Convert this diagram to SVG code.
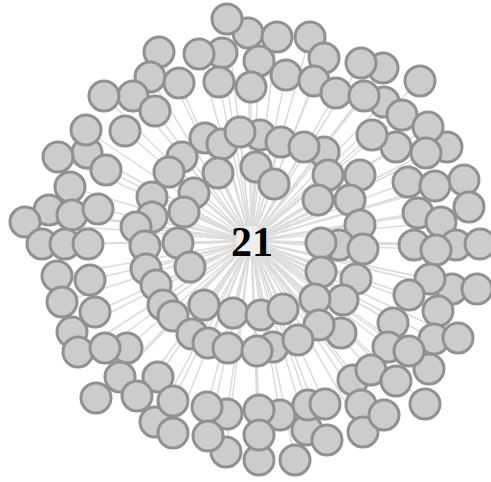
<svg xmlns="http://www.w3.org/2000/svg" width="491" height="482" viewBox="0 0 491 482">
<style>
.l{stroke:#dcdcdc;stroke-width:1.5}
.n{fill:#cccccc;stroke:#919191;stroke-width:3}
.c{fill:#eeeeee;stroke:#dddddd;stroke-width:2}
.t{font-family:"Liberation Serif","DejaVu Serif",serif;font-weight:bold;font-size:42px;fill:#000}
</style>
<rect width="491" height="482" fill="#fff"/>
<g id="links">
<line class="l" x1="251" y1="241" x2="227" y2="19"/><line class="l" x1="251" y1="241" x2="248" y2="33"/><line class="l" x1="251" y1="241" x2="277" y2="37"/><line class="l" x1="251" y1="241" x2="310" y2="37"/><line class="l" x1="251" y1="241" x2="159" y2="52"/><line class="l" x1="251" y1="241" x2="199" y2="54"/><line class="l" x1="251" y1="241" x2="222" y2="53"/><line class="l" x1="251" y1="241" x2="259" y2="61"/><line class="l" x1="251" y1="241" x2="324" y2="58"/><line class="l" x1="251" y1="241" x2="361" y2="63"/><line class="l" x1="251" y1="241" x2="383" y2="68"/><line class="l" x1="251" y1="241" x2="420" y2="81"/><line class="l" x1="251" y1="241" x2="150" y2="77"/><line class="l" x1="251" y1="241" x2="179" y2="83"/><line class="l" x1="251" y1="241" x2="219" y2="82"/><line class="l" x1="251" y1="241" x2="251" y2="87"/><line class="l" x1="251" y1="241" x2="286" y2="75"/><line class="l" x1="251" y1="241" x2="314" y2="81"/><line class="l" x1="251" y1="241" x2="336" y2="93"/><line class="l" x1="251" y1="241" x2="364" y2="96"/><line class="l" x1="251" y1="241" x2="104" y2="96"/><line class="l" x1="251" y1="241" x2="133" y2="96"/><line class="l" x1="251" y1="241" x2="155" y2="111"/><line class="l" x1="251" y1="241" x2="384" y2="102"/>
<line class="l" x1="251" y1="241" x2="402" y2="115"/><line class="l" x1="251" y1="241" x2="428" y2="127"/><line class="l" x1="251" y1="241" x2="447" y2="147"/><line class="l" x1="251" y1="241" x2="426" y2="153"/><line class="l" x1="251" y1="241" x2="396" y2="147"/><line class="l" x1="251" y1="241" x2="372" y2="135"/><line class="l" x1="251" y1="241" x2="86" y2="130"/><line class="l" x1="251" y1="241" x2="125" y2="131"/><line class="l" x1="251" y1="241" x2="205" y2="138"/><line class="l" x1="251" y1="241" x2="222" y2="144"/><line class="l" x1="251" y1="241" x2="240" y2="132"/><line class="l" x1="251" y1="241" x2="260" y2="135"/><line class="l" x1="251" y1="241" x2="281" y2="142"/><line class="l" x1="251" y1="241" x2="304" y2="147"/><line class="l" x1="251" y1="241" x2="324" y2="152"/><line class="l" x1="251" y1="241" x2="58" y2="157"/><line class="l" x1="251" y1="241" x2="87" y2="153"/><line class="l" x1="251" y1="241" x2="106" y2="170"/><line class="l" x1="251" y1="241" x2="182" y2="157"/><line class="l" x1="251" y1="241" x2="169" y2="172"/><line class="l" x1="251" y1="241" x2="218" y2="173"/><line class="l" x1="251" y1="241" x2="256" y2="167"/><line class="l" x1="251" y1="241" x2="274" y2="184"/><line class="l" x1="251" y1="241" x2="328" y2="175"/><line class="l" x1="251" y1="241" x2="360" y2="175"/><line class="l" x1="251" y1="241" x2="408" y2="182"/><line class="l" x1="251" y1="241" x2="435" y2="186"/><line class="l" x1="251" y1="241" x2="464" y2="180"/>
<line class="l" x1="251" y1="241" x2="70" y2="187"/><line class="l" x1="251" y1="241" x2="194" y2="193"/><line class="l" x1="251" y1="241" x2="152" y2="197"/><line class="l" x1="251" y1="241" x2="318" y2="200"/><line class="l" x1="251" y1="241" x2="350" y2="200"/><line class="l" x1="251" y1="241" x2="49" y2="210"/><line class="l" x1="251" y1="241" x2="72" y2="215"/><line class="l" x1="251" y1="241" x2="98" y2="209"/><line class="l" x1="251" y1="241" x2="25" y2="222"/><line class="l" x1="251" y1="241" x2="184" y2="212"/><line class="l" x1="251" y1="241" x2="152" y2="217"/><line class="l" x1="251" y1="241" x2="136" y2="227"/><line class="l" x1="251" y1="241" x2="418" y2="213"/><line class="l" x1="251" y1="241" x2="441" y2="222"/><line class="l" x1="251" y1="241" x2="469" y2="207"/><line class="l" x1="251" y1="241" x2="360" y2="225"/>
<line class="l" x1="251" y1="241" x2="42" y2="244"/><line class="l" x1="251" y1="241" x2="65" y2="244"/><line class="l" x1="251" y1="241" x2="88" y2="244"/><line class="l" x1="251" y1="241" x2="145" y2="246"/><line class="l" x1="251" y1="241" x2="178" y2="243"/><line class="l" x1="251" y1="241" x2="321" y2="243"/><line class="l" x1="251" y1="241" x2="339" y2="245"/><line class="l" x1="251" y1="241" x2="363" y2="249"/><line class="l" x1="251" y1="241" x2="414" y2="245"/><line class="l" x1="251" y1="241" x2="436" y2="250"/><line class="l" x1="251" y1="241" x2="456" y2="245"/><line class="l" x1="251" y1="241" x2="480" y2="244"/>
<line class="l" x1="251" y1="241" x2="146" y2="269"/><line class="l" x1="251" y1="241" x2="190" y2="267"/><line class="l" x1="251" y1="241" x2="57" y2="276"/><line class="l" x1="251" y1="241" x2="90" y2="280"/><line class="l" x1="251" y1="241" x2="156" y2="285"/><line class="l" x1="251" y1="241" x2="62" y2="302"/><line class="l" x1="251" y1="241" x2="95" y2="312"/><line class="l" x1="251" y1="241" x2="163" y2="305"/><line class="l" x1="251" y1="241" x2="173" y2="316"/><line class="l" x1="251" y1="241" x2="204" y2="305"/><line class="l" x1="251" y1="241" x2="233" y2="313"/><line class="l" x1="251" y1="241" x2="261" y2="315"/><line class="l" x1="251" y1="241" x2="283" y2="309"/><line class="l" x1="251" y1="241" x2="315" y2="299"/><line class="l" x1="251" y1="241" x2="321" y2="272"/><line class="l" x1="251" y1="241" x2="356" y2="279"/><line class="l" x1="251" y1="241" x2="430" y2="279"/><line class="l" x1="251" y1="241" x2="452" y2="289"/><line class="l" x1="251" y1="241" x2="477" y2="289"/><line class="l" x1="251" y1="241" x2="409" y2="295"/><line class="l" x1="251" y1="241" x2="438" y2="311"/><line class="l" x1="251" y1="241" x2="343" y2="300"/><line class="l" x1="251" y1="241" x2="393" y2="323"/><line class="l" x1="251" y1="241" x2="458" y2="338"/><line class="l" x1="251" y1="241" x2="434" y2="339"/><line class="l" x1="251" y1="241" x2="319" y2="325"/><line class="l" x1="251" y1="241" x2="341" y2="333"/>
<line class="l" x1="251" y1="241" x2="72" y2="332"/><line class="l" x1="251" y1="241" x2="78" y2="352"/><line class="l" x1="251" y1="241" x2="105" y2="348"/><line class="l" x1="251" y1="241" x2="127" y2="348"/><line class="l" x1="251" y1="241" x2="192" y2="334"/><line class="l" x1="251" y1="241" x2="208" y2="343"/><line class="l" x1="251" y1="241" x2="228" y2="348"/><line class="l" x1="251" y1="241" x2="257" y2="351"/><line class="l" x1="251" y1="241" x2="273" y2="347"/><line class="l" x1="251" y1="241" x2="298" y2="340"/><line class="l" x1="251" y1="241" x2="388" y2="347"/><line class="l" x1="251" y1="241" x2="409" y2="351"/><line class="l" x1="251" y1="241" x2="429" y2="369"/><line class="l" x1="251" y1="241" x2="371" y2="370"/><line class="l" x1="251" y1="241" x2="353" y2="380"/><line class="l" x1="251" y1="241" x2="396" y2="381"/><line class="l" x1="251" y1="241" x2="120" y2="377"/><line class="l" x1="251" y1="241" x2="158" y2="377"/><line class="l" x1="251" y1="241" x2="96" y2="398"/><line class="l" x1="251" y1="241" x2="137" y2="396"/><line class="l" x1="251" y1="241" x2="173" y2="401"/><line class="l" x1="251" y1="241" x2="207" y2="407"/><line class="l" x1="251" y1="241" x2="227" y2="414"/><line class="l" x1="251" y1="241" x2="155" y2="422"/><line class="l" x1="251" y1="241" x2="173" y2="433"/><line class="l" x1="251" y1="241" x2="208" y2="436"/><line class="l" x1="251" y1="241" x2="226" y2="452"/><line class="l" x1="251" y1="241" x2="259" y2="410"/><line class="l" x1="251" y1="241" x2="280" y2="415"/><line class="l" x1="251" y1="241" x2="308" y2="405"/><line class="l" x1="251" y1="241" x2="325" y2="404"/><line class="l" x1="251" y1="241" x2="361" y2="405"/><line class="l" x1="251" y1="241" x2="384" y2="415"/><line class="l" x1="251" y1="241" x2="259" y2="435"/><line class="l" x1="251" y1="241" x2="307" y2="430"/><line class="l" x1="251" y1="241" x2="327" y2="440"/><line class="l" x1="251" y1="241" x2="363" y2="432"/><line class="l" x1="251" y1="241" x2="259" y2="460"/><line class="l" x1="251" y1="241" x2="295" y2="460"/><line class="l" x1="251" y1="241" x2="425" y2="404"/>
</g>
<g id="nodes">
<g id="n1"><circle class="n" cx="248" cy="33" r="15"/></g>
<g id="n2"><circle class="n" cx="227" cy="19" r="15"/></g>
<g id="n3"><circle class="n" cx="277" cy="37" r="15"/></g>
<g id="n4"><circle class="n" cx="310" cy="37" r="15"/></g>
<g id="n5"><circle class="n" cx="222" cy="53" r="15"/></g>
<g id="n6"><circle class="n" cx="199" cy="54" r="15"/></g>
<g id="n7"><circle class="n" cx="159" cy="52" r="15"/></g>
<g id="n8"><circle class="n" cx="259" cy="61" r="15"/></g>
<g id="n9"><circle class="n" cx="324" cy="58" r="15"/></g>
<g id="n10"><circle class="n" cx="383" cy="68" r="15"/></g>
<g id="n11"><circle class="n" cx="361" cy="63" r="15"/></g>
<g id="n12"><circle class="n" cx="420" cy="81" r="15"/></g>
<g id="n13"><circle class="n" cx="150" cy="77" r="15"/></g>
<g id="n14"><circle class="n" cx="179" cy="83" r="15"/></g>
<g id="n15"><circle class="n" cx="219" cy="82" r="15"/></g>
<g id="n16"><circle class="n" cx="251" cy="87" r="15"/></g>
<g id="n17"><circle class="n" cx="286" cy="75" r="15"/></g>
<g id="n18"><circle class="n" cx="314" cy="81" r="15"/></g>
<g id="n19"><circle class="n" cx="384" cy="102" r="15"/></g>
<g id="n20"><circle class="n" cx="336" cy="93" r="15"/></g>
<g id="n21"><circle class="n" cx="364" cy="96" r="15"/></g>
<g id="n22"><circle class="n" cx="133" cy="96" r="15"/></g>
<g id="n23"><circle class="n" cx="104" cy="96" r="15"/></g>
<g id="n24"><circle class="n" cx="155" cy="111" r="15"/></g>
<g id="n25"><circle class="n" cx="402" cy="115" r="15"/></g>
<g id="n26"><circle class="n" cx="447" cy="147" r="15"/></g>
<g id="n27"><circle class="n" cx="428" cy="127" r="15"/></g>
<g id="n28"><circle class="n" cx="396" cy="147" r="15"/></g>
<g id="n29"><circle class="n" cx="426" cy="153" r="15"/></g>
<g id="n30"><circle class="n" cx="372" cy="135" r="15"/></g>
<g id="n31"><circle class="n" cx="87" cy="153" r="15"/></g>
<g id="n32"><circle class="n" cx="86" cy="130" r="15"/></g>
<g id="n33"><circle class="n" cx="125" cy="131" r="15"/></g>
<g id="n34"><circle class="n" cx="205" cy="138" r="15"/></g>
<g id="n35"><circle class="n" cx="222" cy="144" r="15"/></g>
<g id="n36"><circle class="n" cx="260" cy="135" r="15"/></g>
<g id="n37"><circle class="n" cx="240" cy="132" r="15"/></g>
<g id="n38"><circle class="n" cx="281" cy="142" r="15"/></g>
<g id="n39"><circle class="n" cx="324" cy="152" r="15"/></g>
<g id="n40"><circle class="n" cx="304" cy="147" r="15"/></g>
<g id="n41"><circle class="n" cx="58" cy="157" r="15"/></g>
<g id="n42"><circle class="n" cx="106" cy="170" r="15"/></g>
<g id="n43"><circle class="n" cx="182" cy="157" r="15"/></g>
<g id="n44"><circle class="n" cx="169" cy="172" r="15"/></g>
<g id="n45"><circle class="n" cx="218" cy="173" r="15"/></g>
<g id="n46"><circle class="n" cx="256" cy="167" r="15"/></g>
<g id="n47"><circle class="n" cx="274" cy="184" r="15"/></g>
<g id="n48"><circle class="n" cx="328" cy="175" r="15"/></g>
<g id="n49"><circle class="n" cx="360" cy="175" r="15"/></g>
<g id="n50"><circle class="n" cx="408" cy="182" r="15"/></g>
<g id="n51"><circle class="n" cx="464" cy="180" r="15"/></g>
<g id="n52"><circle class="n" cx="435" cy="186" r="15"/></g>
<g id="n53"><circle class="n" cx="70" cy="187" r="15"/></g>
<g id="n54"><circle class="n" cx="194" cy="193" r="15"/></g>
<g id="n55"><circle class="n" cx="152" cy="197" r="15"/></g>
<g id="n56"><circle class="n" cx="318" cy="200" r="15"/></g>
<g id="n57"><circle class="n" cx="350" cy="200" r="15"/></g>
<g id="n58"><circle class="n" cx="49" cy="210" r="15"/></g>
<g id="n59"><circle class="n" cx="25" cy="222" r="15"/></g>
<g id="n60"><circle class="n" cx="72" cy="215" r="15"/></g>
<g id="n61"><circle class="n" cx="98" cy="209" r="15"/></g>
<g id="n62"><circle class="n" cx="152" cy="217" r="15"/></g>
<g id="n63"><circle class="n" cx="184" cy="212" r="15"/></g>
<g id="n64"><circle class="n" cx="136" cy="227" r="15"/></g>
<g id="n65"><circle class="n" cx="469" cy="207" r="15"/></g>
<g id="n66"><circle class="n" cx="418" cy="213" r="15"/></g>
<g id="n67"><circle class="n" cx="441" cy="222" r="15"/></g>
<g id="n68"><circle class="n" cx="360" cy="225" r="15"/></g>
<g id="n69"><circle class="n" cx="42" cy="244" r="15"/></g>
<g id="n70"><circle class="n" cx="65" cy="244" r="15"/></g>
<g id="n71"><circle class="n" cx="88" cy="244" r="15"/></g>
<g id="n72"><circle class="n" cx="145" cy="246" r="15"/></g>
<g id="n73"><circle class="n" cx="178" cy="243" r="15"/></g>
<g id="n74"><circle class="n" cx="339" cy="245" r="15"/></g>
<g id="n75"><circle class="n" cx="321" cy="243" r="15"/></g>
<g id="n76"><circle class="n" cx="363" cy="249" r="15"/></g>
<g id="n77"><circle class="n" cx="456" cy="245" r="15"/></g>
<g id="n78"><circle class="n" cx="414" cy="245" r="15"/></g>
<g id="n79"><circle class="n" cx="436" cy="250" r="15"/></g>
<g id="n80"><circle class="n" cx="480" cy="244" r="15"/></g>
<g id="n81"><circle class="n" cx="146" cy="269" r="15"/></g>
<g id="n82"><circle class="n" cx="190" cy="267" r="15"/></g>
<g id="n83"><circle class="n" cx="57" cy="276" r="15"/></g>
<g id="n84"><circle class="n" cx="90" cy="280" r="15"/></g>
<g id="n85"><circle class="n" cx="156" cy="285" r="15"/></g>
<g id="n86"><circle class="n" cx="62" cy="302" r="15"/></g>
<g id="n87"><circle class="n" cx="95" cy="312" r="15"/></g>
<g id="n88"><circle class="n" cx="163" cy="305" r="15"/></g>
<g id="n89"><circle class="n" cx="173" cy="316" r="15"/></g>
<g id="n90"><circle class="n" cx="204" cy="305" r="15"/></g>
<g id="n91"><circle class="n" cx="321" cy="272" r="15"/></g>
<g id="n92"><circle class="n" cx="356" cy="279" r="15"/></g>
<g id="n93"><circle class="n" cx="452" cy="289" r="15"/></g>
<g id="n94"><circle class="n" cx="430" cy="279" r="15"/></g>
<g id="n95"><circle class="n" cx="477" cy="289" r="15"/></g>
<g id="n96"><circle class="n" cx="409" cy="295" r="15"/></g>
<g id="n97"><circle class="n" cx="438" cy="311" r="15"/></g>
<g id="n98"><circle class="n" cx="343" cy="300" r="15"/></g>
<g id="n99"><circle class="n" cx="315" cy="299" r="15"/></g>
<g id="n100"><circle class="n" cx="393" cy="323" r="15"/></g>
<g id="n101"><circle class="n" cx="434" cy="339" r="15"/></g>
<g id="n102"><circle class="n" cx="458" cy="338" r="15"/></g>
<g id="n103"><circle class="n" cx="341" cy="333" r="15"/></g>
<g id="n104"><circle class="n" cx="319" cy="325" r="15"/></g>
<g id="n105"><circle class="n" cx="72" cy="332" r="15"/></g>
<g id="n106"><circle class="n" cx="78" cy="352" r="15"/></g>
<g id="n107"><circle class="n" cx="127" cy="348" r="15"/></g>
<g id="n108"><circle class="n" cx="105" cy="348" r="15"/></g>
<g id="n109"><circle class="n" cx="192" cy="334" r="15"/></g>
<g id="n110"><circle class="n" cx="233" cy="313" r="15"/></g>
<g id="n111"><circle class="n" cx="261" cy="315" r="15"/></g>
<g id="n112"><circle class="n" cx="283" cy="309" r="15"/></g>
<g id="n113"><circle class="n" cx="208" cy="343" r="15"/></g>
<g id="n114"><circle class="n" cx="273" cy="347" r="15"/></g>
<g id="n115"><circle class="n" cx="228" cy="348" r="15"/></g>
<g id="n116"><circle class="n" cx="298" cy="340" r="15"/></g>
<g id="n117"><circle class="n" cx="257" cy="351" r="15"/></g>
<g id="n118"><circle class="n" cx="388" cy="347" r="15"/></g>
<g id="n119"><circle class="n" cx="429" cy="369" r="15"/></g>
<g id="n120"><circle class="n" cx="409" cy="351" r="15"/></g>
<g id="n121"><circle class="n" cx="353" cy="380" r="15"/></g>
<g id="n122"><circle class="n" cx="371" cy="370" r="15"/></g>
<g id="n123"><circle class="n" cx="396" cy="381" r="15"/></g>
<g id="n125"><circle class="n" cx="120" cy="377" r="15"/></g>
<g id="n126"><circle class="n" cx="158" cy="377" r="15"/></g>
<g id="n127"><circle class="n" cx="96" cy="398" r="15"/></g>
<g id="n128"><circle class="n" cx="137" cy="396" r="15"/></g>
<g id="n129"><circle class="n" cx="155" cy="422" r="15"/></g>
<g id="n130"><circle class="n" cx="173" cy="401" r="15"/></g>
<g id="n131"><circle class="n" cx="173" cy="433" r="15"/></g>
<g id="n132"><circle class="n" cx="226" cy="452" r="15"/></g>
<g id="n133"><circle class="n" cx="227" cy="414" r="15"/></g>
<g id="n134"><circle class="n" cx="207" cy="407" r="15"/></g>
<g id="n135"><circle class="n" cx="208" cy="436" r="15"/></g>
<g id="n136"><circle class="n" cx="280" cy="415" r="15"/></g>
<g id="n137"><circle class="n" cx="259" cy="410" r="15"/></g>
<g id="n138"><circle class="n" cx="259" cy="460" r="15"/></g>
<g id="n139"><circle class="n" cx="259" cy="435" r="15"/></g>
<g id="n140"><circle class="n" cx="295" cy="460" r="15"/></g>
<g id="n141"><circle class="n" cx="307" cy="430" r="15"/></g>
<g id="n142"><circle class="n" cx="308" cy="405" r="15"/></g>
<g id="n143"><circle class="n" cx="327" cy="440" r="15"/></g>
<g id="n144"><circle class="n" cx="325" cy="404" r="15"/></g>
<g id="n145"><circle class="n" cx="361" cy="405" r="15"/></g>
<g id="n146"><circle class="n" cx="363" cy="432" r="15"/></g>
<g id="n147"><circle class="n" cx="384" cy="415" r="15"/></g>
<g id="n148"><circle class="n" cx="425" cy="404" r="15"/></g>
</g>
<g id="center">
<circle class="c" cx="251" cy="241" r="16"/>
<text class="t" x="252" y="256" text-anchor="middle">21</text>
</g>
</svg>
